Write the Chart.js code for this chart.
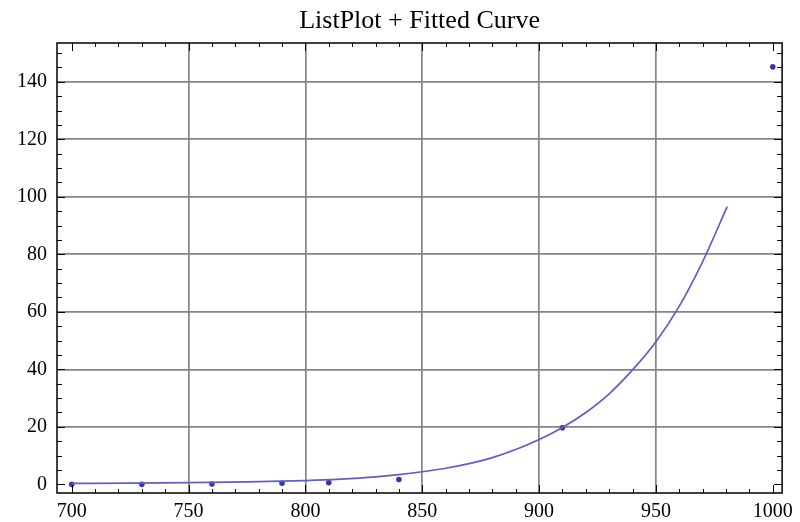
<!DOCTYPE html>
<html>
<head>
<meta charset="utf-8">
<script src="https://cdn.jsdelivr.net/npm/chart.js@4"></script>
<style>
  html, body { margin: 0; padding: 0; background: #fff; }
  #wrap { width: 800px; height: 522px; }
</style>
</head>
<body>
<div id="wrap"><canvas id="myChart" width="800" height="522"></canvas></div>
<script>
// measured points (ListPlot)
const pointX = [700, 730, 760, 790, 810, 840, 910, 1000];
const pointY = [0, 0, 0.1, 0.35, 0.6, 1.7, 19.7, 145.2];

// fitted curve
const curveX = [700, 725, 750, 775, 800, 815, 830, 840, 850, 860, 870, 880, 890, 900, 910, 920, 930, 940, 950, 960, 970, 980.5];
const curveY = [0.35, 0.45, 0.6, 0.85, 1.3, 1.8, 2.6, 3.4, 4.4, 5.6, 7.2, 9.3, 12.1, 15.6, 19.8, 25, 31.5, 39.8, 49.6, 62, 77.5, 96.6];

// axis ticks
const xTicks = [700, 750, 800, 850, 900, 950, 1000];
const yTicks = [0, 20, 40, 60, 80, 100, 120, 140];
const xMinorStep = 10;
const yMinorStep = 5;

const fontFam = "'Liberation Serif', 'DejaVu Serif', serif";

// frame + inward ticks on all four sides (Mathematica style)
const framePlugin = {
  id: 'frame',
  afterDraw(chart) {
    const ctx = chart.ctx;
    const a = chart.chartArea;
    const xs = chart.scales.x, ys = chart.scales.y;
    ctx.save();
    ctx.strokeStyle = '#000';
    ctx.lineWidth = 1;
    function tick(x1, y1, x2, y2) {
      ctx.beginPath();
      ctx.moveTo(x1, y1);
      ctx.lineTo(x2, y2);
      ctx.stroke();
    }
    for (let v = Math.ceil(xs.min / xMinorStep) * xMinorStep; v <= xs.max; v += xMinorStep) {
      const px = Math.round(xs.getPixelForValue(v)) + 0.5;
      const len = xTicks.includes(v) ? 8 : 4;
      tick(px, a.bottom, px, a.bottom - len);
      tick(px, a.top, px, a.top + len);
    }
    for (let v = Math.ceil(ys.min / yMinorStep) * yMinorStep; v <= ys.max; v += yMinorStep) {
      const py = Math.round(ys.getPixelForValue(v)) + 0.5;
      const len = yTicks.includes(v) ? 8 : 5;
      tick(a.left, py, a.left + len, py);
      tick(a.right, py, a.right - len, py);
    }
    ctx.lineWidth = 1.5;
    ctx.strokeRect(a.left, a.top, a.right - a.left, a.bottom - a.top);
    ctx.restore();
  }
};

const ctx = document.getElementById('myChart').getContext('2d');
new Chart(ctx, {
  type: 'scatter',
  data: {
    datasets: [
      {
        label: 'Fitted Curve',
        type: 'line',
        data: curveX.map((x, i) => ({ x: x, y: curveY[i] })),
        borderColor: 'rgb(95, 95, 195)',
        borderWidth: 1.7,
        pointRadius: 0,
        cubicInterpolationMode: 'monotone',
        fill: false
      },
      {
        label: 'ListPlot',
        data: pointX.map((x, i) => ({ x: x, y: pointY[i] })),
        backgroundColor: 'rgb(55, 55, 170)',
        borderWidth: 0,
        pointRadius: 2.8
      }
    ]
  },
  options: {
    responsive: false,
    animation: false,
    layout: { padding: { left: 0, right: 15, top: 0, bottom: 0 } },
    plugins: {
      legend: { display: false },
      tooltip: { enabled: false },
      title: {
        display: true,
        text: 'ListPlot + Fitted Curve',
        fullSize: false,
        color: '#000',
        font: { family: fontFam, size: 26, weight: 'normal' },
        padding: { top: 6, bottom: 5.8 }
      }
    },
    scales: {
      x: {
        type: 'linear',
        min: 693.7,
        max: 1004,
        afterBuildTicks: (s) => { s.ticks = xTicks.map(v => ({ value: v })); },
        afterFit: (s) => { s.height = 29; },
        border: { display: false },
        grid: {
          drawTicks: false,
          lineWidth: 1.7,
          color: (c) => (c.tick && (c.tick.value === 700 || c.tick.value === 1000)) ? 'rgba(0,0,0,0)' : '#858585'
        },
        ticks: {
          color: '#000',
          padding: 7,
          maxRotation: 0,
          autoSkip: false,
          font: { family: fontFam, size: 20 },
          callback: (v) => String(v)
        }
      },
      y: {
        type: 'linear',
        min: -3.0,
        max: 153.5,
        afterBuildTicks: (s) => { s.ticks = yTicks.map(v => ({ value: v })); },
        afterFit: (s) => { s.width = 57; },
        border: { display: false },
        grid: {
          drawTicks: false,
          lineWidth: 1.7,
          color: (c) => (c.tick && c.tick.value === 0) ? 'rgba(0,0,0,0)' : '#858585'
        },
        ticks: {
          color: '#000',
          padding: 10,
          autoSkip: false,
          font: { family: fontFam, size: 20 },
          callback: (v) => String(v)
        }
      }
    }
  },
  plugins: [framePlugin]
});
</script>
</body>
</html>
